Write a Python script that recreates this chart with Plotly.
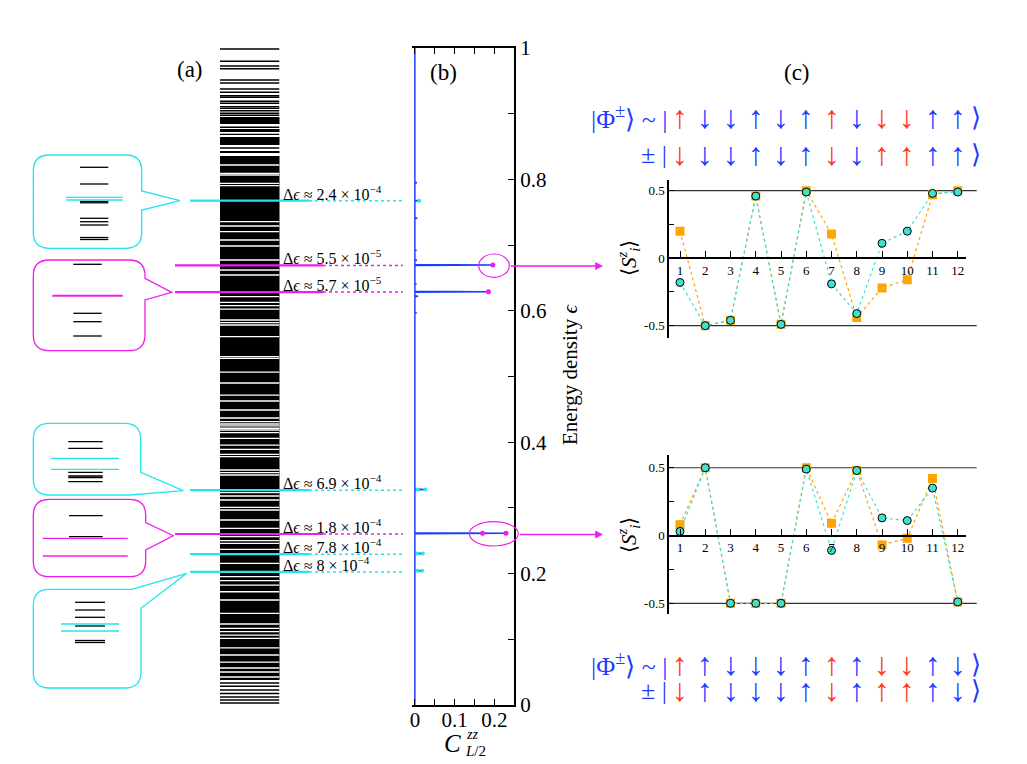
import plotly.graph_objects as go

# page body has an 8px margin: figure is drawn at (8, 8)
OFF = 8
FW, FH = 1019, 756
def px(x): return (x - OFF) / FW
def py(y): return 1 - (y - OFF) / FH

FONT = "Liberation Serif"
BLUE = "#1f3dff"
RED = "#ff3b1c"
CYAN = "#22e5ee"
MAG = "#f01cf0"
TURQ = "#40e0d0"
ORANGE = "#ffa500"

# ---------------- data ----------------
# (a) spectrum (energy density): isolated levels, dense bands and visible gaps inside bands
levels_a = [0.9985, 0.9798, 0.9726, 0.9685, 0.9513, 0.9467, 0.9376, 0.9326, 0.9274,
            0.9250, 0.9189, 0.9159, 0.9107, 0.9082, 0.9046, 0.9006, 0.8976, 0.8793,
            0.8686, 0.8478, 0.0335, 0.0285, 0.0228, 0.0175, 0.0122, 0.0075, 0.0030]
bands_a = [(0.8843, 0.8950), (0.8726, 0.8767), (0.8524, 0.8645), (0.8402, 0.8432),
           (0.0385, 0.8356)]
gaps_a = [0.8219, 0.8093, 0.8067, 0.7941, 0.7904, 0.7356, 0.7291, 0.7204, 0.7078, 0.6986,
          0.6773, 0.6621, 0.6545, 0.6215, 0.6129, 0.6078, 0.6027, 0.5860, 0.5819, 0.5784,
          0.5606, 0.5301, 0.5277, 0.5068, 0.4901, 0.4718, 0.4627, 0.4490, 0.4368, 0.4312,
          0.4277, 0.4247, 0.4212, 0.4186, 0.4145, 0.4059, 0.3957, 0.3892, 0.3816, 0.3779,
          0.3577, 0.3536, 0.3501, 0.3231, 0.3181, 0.3120, 0.3009, 0.2968, 0.2816, 0.2689,
          0.2562, 0.2501, 0.2461, 0.2370, 0.2157, 0.1953, 0.1892, 0.1826, 0.1724, 0.1598,
          0.1396, 0.1233, 0.1167, 0.1116, 0.1065, 0.1015, 0.0868, 0.0761, 0.0654, 0.0563,
          0.0502, 0.0426]

# highlighted states
state_eps = [0.7676, 0.669, 0.6285, 0.327, 0.2603, 0.2295, 0.2025]
state_kind = ["c", "m", "m", "c", "m", "c", "c"]
state_deps = ["2.4 × 10<sup>−4</sup>", "5.5 × 10<sup>−5</sup>", "5.7 × 10<sup>−5</sup>",
              "6.9 × 10<sup>−4</sup>", "1.8 × 10<sup>−4</sup>", "7.8 × 10<sup>−4</sup>",
              "8 × 10<sup>−4</sup>"]

# (b) half-chain zz correlation vs energy density
spike_eps = [0.2044, 0.2305, 0.2613, 0.3280, 0.5970, 0.6220, 0.6290, 0.6410, 0.6697, 0.6770,
             0.6920, 0.7410, 0.7676, 0.7950]
spike_c = [0.018, 0.020, 0.229, 0.026, 0.004, 0.008, 0.185, 0.004, 0.196, 0.005,
           0.004, 0.006, 0.008, 0.005]
mag_pts_eps = [0.6697, 0.6290, 0.2613, 0.2613]
mag_pts_c = [0.196, 0.185, 0.170, 0.229]
cyan_pts_eps = [0.7676, 0.3280, 0.3280, 0.2305, 0.2305, 0.2044, 0.2044]
cyan_pts_c = [0.011, 0.007, 0.026, 0.006, 0.020, 0.006, 0.018]

# (c) local magnetisation
sites = list(range(1, 13))
sz_top_circ = [-0.18, -0.50, -0.46, 0.46, -0.49, 0.49, -0.19, -0.41, 0.11, 0.20, 0.48, 0.49]
sz_top_sq = [0.20, -0.50, -0.46, 0.46, -0.49, 0.50, 0.18, -0.44, -0.22, -0.16, 0.47, 0.50]
sz_bot_circ = [0.03, 0.50, -0.50, -0.50, -0.50, 0.49, -0.11, 0.48, 0.13, 0.11, 0.35, -0.49]
sz_bot_sq = [0.08, 0.50, -0.50, -0.50, -0.50, 0.50, 0.09, 0.48, -0.07, -0.02, 0.42, -0.49]

spins_top_a = ["u", "d", "d", "u", "d", "u", "u", "d", "d", "d", "u", "u"]
spins_top_b = ["d", "d", "d", "u", "d", "u", "d", "d", "u", "u", "u", "u"]
spins_bot_a = ["u", "u", "d", "d", "d", "u", "u", "u", "d", "d", "u", "d"]
spins_bot_b = ["d", "u", "d", "d", "d", "u", "d", "u", "u", "u", "u", "d"]
flipped = [1, 7, 9, 10]

# ---------------- figure ----------------
fig = go.Figure()

# spectrum
fig.add_trace(go.Bar(x=[0.5] * len(bands_a), y=[hi - lo for lo, hi in bands_a],
                     base=[lo for lo, hi in bands_a], width=1.0,
                     marker=dict(color="black", line=dict(width=0)),
                     xaxis="x2", yaxis="y", hoverinfo="skip"))
lx, ly = [], []
for e in levels_a:
    lx += [0, 1, None]
    ly += [e, e, None]
fig.add_trace(go.Scatter(x=lx, y=ly, mode="lines", line=dict(color="black", width=1.4),
                         xaxis="x2", yaxis="y", hoverinfo="skip"))
gx, gy = [], []
for e in gaps_a:
    gx += [0, 1, None]
    gy += [e, e, None]
fig.add_trace(go.Scatter(x=gx, y=gy, mode="lines", line=dict(color="white", width=1.3),
                         xaxis="x2", yaxis="y", hoverinfo="skip"))

# panel (b) curve
bx, by = [0.0], [0.0]
for e, c in zip(spike_eps, spike_c):
    bx += [0.0, c, 0.0]
    by += [e - 0.0008, e, e + 0.0008]
bx += [0.0]
by += [1.0]
fig.add_trace(go.Scatter(x=bx, y=by, mode="lines", line=dict(color=BLUE, width=1.5),
                         xaxis="x", yaxis="y", hoverinfo="skip"))
fig.add_trace(go.Scatter(x=cyan_pts_c, y=cyan_pts_eps, mode="markers",
                         marker=dict(color=CYAN, size=4), xaxis="x", yaxis="y"))
fig.add_trace(go.Scatter(x=mag_pts_c, y=mag_pts_eps, mode="markers",
                         marker=dict(color=MAG, size=5), xaxis="x", yaxis="y"))

# panel (c)
for xa, ya, sq, ci in [("x3", "y3", sz_top_sq, sz_top_circ), ("x4", "y4", sz_bot_sq, sz_bot_circ)]:
    fig.add_trace(go.Scatter(x=sites, y=sq, mode="lines+markers", xaxis=xa, yaxis=ya,
                             line=dict(color=ORANGE, width=1.2, dash="dot"),
                             marker=dict(symbol="square", size=9, color=ORANGE)))
    fig.add_trace(go.Scatter(x=sites, y=ci, mode="lines+markers", xaxis=xa, yaxis=ya,
                             line=dict(color=TURQ, width=1.2, dash="dot"),
                             marker=dict(symbol="circle", size=8, color=TURQ,
                                         line=dict(color="black", width=1))))

shapes = []
annotations = []


def note(x, y, text, size, color="black", xanchor="center", yanchor="middle", **kw):
    annotations.append(dict(xref="paper", yref="paper", x=px(x), y=py(y), showarrow=False,
                            xanchor=xanchor, yanchor=yanchor, text=text,
                            font=dict(family=FONT, size=size, color=color), **kw))


# connectors and labels for highlighted states
for e, k, d in zip(state_eps, state_kind, state_deps):
    col = CYAN if k == "c" else MAG
    x0 = 190 if k == "c" else 175
    x1 = 309 if k == "c" else 323
    shapes.append(dict(type="line", xref="paper", yref="y", x0=px(x0), x1=px(x1), y0=e, y1=e,
                       line=dict(color=col, width=2.2)))
    shapes.append(dict(type="line", xref="paper", yref="y", x0=px(x1), x1=px(403), y0=e, y1=e,
                       line=dict(color=col, width=1.5, dash="dot")))
    annotations.append(dict(xref="paper", yref="y", x=px(281), y=e, yshift=-4,
                            xanchor="left", yanchor="bottom", showarrow=False,
                            text="Δ<i>ϵ</i> ≈ " + d,
                            font=dict(family=FONT, size=16, color="black")))


def callout(L, R, T, B, r, pointer, color):
    kind = pointer[0]
    if kind == "right":
        _, y1, tx, ty, y2 = pointer
        p = [("M", L + r, T), ("L", R - r, T), ("Q", R, T, R, T + r), ("L", R, y1), ("L", tx, ty),
             ("L", R, y2), ("L", R, B - r), ("Q", R, B, R - r, B)]
    elif kind == "rightbottom":
        _, y1, tx, ty, xb = pointer
        p = [("M", L + r, T), ("L", R - r, T), ("Q", R, T, R, T + r), ("L", R, y1), ("L", tx, ty),
             ("L", xb, B)]
    else:
        _, xt, tx, ty, y2 = pointer
        p = [("M", L + r, T), ("L", xt, T), ("L", tx, ty), ("L", R, y2), ("L", R, B - r),
             ("Q", R, B, R - r, B)]
    p += [("L", L + r, B), ("Q", L, B, L, B - r), ("L", L, T + r), ("Q", L, T, L + r, T)]
    s = ""
    for seg in p:
        if seg[0] == "Q":
            s += f"Q {px(seg[1]):.5f},{py(seg[2]):.5f} {px(seg[3]):.5f},{py(seg[4]):.5f} "
        else:
            s += f"{seg[0]} {px(seg[1]):.5f},{py(seg[2]):.5f} "
    s += "Z"
    shapes.append(dict(type="path", xref="paper", yref="paper", path=s,
                       line=dict(color=color, width=1.3), fillcolor="rgba(0,0,0,0)"))


def hline(x0, x1, y, color, w=1.3):
    shapes.append(dict(type="line", xref="paper", yref="paper", x0=px(x0), x1=px(x1),
                       y0=py(y), y1=py(y), line=dict(color=color, width=w)))


# inset 1 (cyan, top)
callout(33.3, 141.7, 155, 248.3, 16, ("right", 191, 180, 200.7, 210), CYAN)
for y in [167.3, 184, 201.5, 202.8, 218.3, 221.7, 225, 237.5, 239.5]:
    hline(80, 108.3, y, "black")
for y in [197.3, 200]:
    hline(66, 122.7, y, CYAN)
# inset 2 (magenta, top)
callout(33.3, 145, 260, 350.7, 16, ("right", 278.3, 171.7, 292.3, 300), MAG)
for y in [264.3, 313.3, 321.7, 336]:
    hline(73.3, 101.7, y, "black")
hline(52.3, 122.7, 295.7, MAG, 2)
# inset 3 (cyan, middle)
callout(33.3, 140.7, 423.3, 495, 16, ("rightbottom", 472.3, 183.3, 490.7, 130), CYAN)
for y in [441.7, 448.3, 472.3, 476, 477.5, 481.7]:
    hline(68.3, 102.7, y, "black")
for y in [458.3, 469.3]:
    hline(51, 119, y, CYAN)
# inset 4 (magenta, bottom)
callout(33.3, 145.7, 499.3, 576.7, 16, ("right", 522.7, 173.3, 535.7, 550), MAG)
for y in [515.7, 536.7]:
    hline(69, 102.7, y, "black")
for y in [538.3, 556]:
    hline(42.7, 127.7, y, MAG)
# inset 5 (cyan, bottom)
callout(33.3, 141, 589.3, 688, 16, ("topright", 131.7, 186.7, 573.3, 608.3), CYAN)
for y in [602.3, 610, 617.3, 626, 640.5, 642.5]:
    hline(75, 105, y, "black")
for y in [624, 631]:
    hline(61, 119, y, CYAN)

# ellipses and arrows in (b)
shapes.append(dict(type="circle", xref="paper", yref="paper", x0=px(478.7), x1=px(509.3),
                   y0=py(254), y1=py(277.3), line=dict(color=MAG, width=1.2)))
shapes.append(dict(type="circle", xref="paper", yref="paper", x0=px(469.3), x1=px(518.3),
                   y0=py(521.7), y1=py(546), line=dict(color=MAG, width=1.2)))
for yy, xs in [(266, 509.3), (534.5, 518.3)]:
    annotations.append(dict(xref="paper", yref="paper", x=px(603), y=py(yy), ax=xs - 603, ay=0,
                            showarrow=True, arrowhead=2, arrowsize=1.2, arrowwidth=1.3,
                            arrowcolor=MAG, text=""))

# panel (c) +-0.5 reference lines
for ya in ["y3", "y4"]:
    for v in [0.5, -0.5]:
        shapes.append(dict(type="line", xref="paper", yref=ya, x0=px(669), x1=px(976.7),
                           y0=v, y1=v, line=dict(color="#333333", width=1.2), layer="below"))


# spin rows
def spin_row(spins, xa, yrow):
    for i, s in zip(sites, spins):
        col = RED if i in flipped else BLUE
        annotations.append(dict(xref=xa, yref="paper", x=i, y=py(yrow), showarrow=False,
                                text="↑" if s == "u" else "↓", xanchor="center", yanchor="middle",
                                font=dict(family=FONT, size=32, color=col)))


for xa, y1, y2, a, b in [("x3", 117, 154, spins_top_a, spins_top_b),
                          ("x4", 664, 690, spins_bot_a, spins_bot_b)]:
    spin_row(a, xa, y1)
    spin_row(b, xa, y2)
    note(669, y1, "|Φ<sup>±</sup>⟩ ~ |", 26, BLUE, xanchor="right")
    note(669, y2, "± |", 26, BLUE, xanchor="right")
    for yy in [y1, y2]:
        note(969, yy, "⟩", 26, BLUE, xanchor="left")

# panel labels and titles
for t, x, y in [("(a)", 190, 70), ("(b)", 443, 72), ("(c)", 797, 72)]:
    note(x, y, t, 23)
note(570, 375, "Energy density <i>ϵ</i>", 21, textangle=-90)
note(452, 743, "<i>C</i>", 25)
note(464, 734, "<i>zz</i>", 14, xanchor="left")
note(463, 751, "<i>L</i>/2", 15, xanchor="left")
for yy in [258, 535]:
    note(628, yy, "⟨<i>S</i><sup><i>z</i></sup><sub><i>i</i></sub>⟩", 21, textangle=-90)

tickfont_b = dict(family=FONT, size=21, color="black")
tickfont_c = dict(family=FONT, size=13, color="black")

fig.update_layout(
    width=FW, height=FH, margin=dict(l=0, r=0, t=0, b=0, autoexpand=False),
    paper_bgcolor="white", plot_bgcolor="rgba(0,0,0,0)", showlegend=False,
    barmode="overlay", bargap=0,
    shapes=shapes, annotations=annotations,
    xaxis=dict(domain=[px(411.7), px(514.3)], range=[-0.008, 0.25], anchor="y",
               showline=True, linecolor="black", linewidth=1.5, mirror="ticks",
               ticks="inside", ticklen=6, tickwidth=1.3, tickcolor="black",
               tickvals=[0, 0.1, 0.2], ticktext=["0", "0.1", "0.2"], tickfont=tickfont_b,
               ticklabelstandoff=-5,
               minor=dict(tickvals=[0.05, 0.15], ticks="inside", ticklen=6, tickcolor="black"),
               showgrid=False, zeroline=False, fixedrange=True),
    yaxis=dict(domain=[py(705), py(48)], range=[0, 1], anchor="x", side="right",
               showline=True, linecolor="black", linewidth=1.5,
               ticks="inside", ticklen=7, tickwidth=1.3, tickcolor="black",
               tickvals=[0, 0.2, 0.4, 0.6, 0.8, 1], ticktext=["0", "0.2", "0.4", "0.6", "0.8", "1"],
               tickfont=tickfont_b,
               minor=dict(tickvals=[0.1, 0.3, 0.5, 0.7, 0.9], ticks="inside", ticklen=7, tickcolor="black"),
               showgrid=False, zeroline=False),
    xaxis2=dict(domain=[px(220), px(279.5)], range=[0, 1], anchor="y", visible=False),
    xaxis3=dict(domain=[px(669), px(965.7)], range=[0.564, 12.314], anchor="free",
                position=py(258.2), showline=True, linecolor="black", linewidth=1.5,
                ticks="inside", ticklen=6, tickcolor="black", tickvals=sites,
                tickfont=tickfont_c, showgrid=False, zeroline=False),
    yaxis3=dict(domain=[py(338), py(180)], range=[-0.591, 0.579], anchor="x3",
                showline=True, linecolor="black", linewidth=1.5,
                ticks="inside", ticklen=5, tickcolor="black",
                tickvals=[-0.5, 0, 0.5], ticktext=["-0.5", "0", "0.5"], tickfont=tickfont_c,
                minor=dict(tickvals=[-0.25, 0.25], ticks="inside", ticklen=5, tickcolor="black"),
                showgrid=False, zeroline=False),
    xaxis4=dict(domain=[px(669), px(965.7)], range=[0.564, 12.314], anchor="free",
                position=py(535.5), showline=True, linecolor="black", linewidth=1.5,
                ticks="inside", ticklen=6, tickcolor="black", tickvals=sites,
                tickfont=tickfont_c, showgrid=False, zeroline=False),
    yaxis4=dict(domain=[py(614), py(455)], range=[-0.579, 0.594], anchor="x4",
                showline=True, linecolor="black", linewidth=1.5,
                ticks="inside", ticklen=5, tickcolor="black",
                tickvals=[-0.5, 0, 0.5], ticktext=["-0.5", "0", "0.5"], tickfont=tickfont_c,
                minor=dict(tickvals=[-0.25, 0.25], ticks="inside", ticklen=5, tickcolor="black"),
                showgrid=False, zeroline=False),
)

fig.write_html("out.html")
